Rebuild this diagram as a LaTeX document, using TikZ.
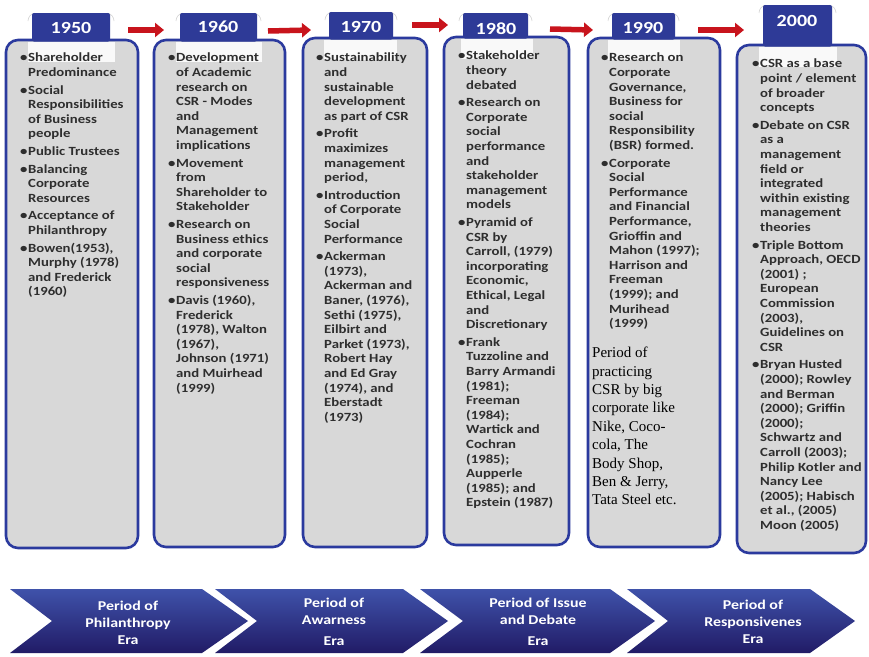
\documentclass[tikz,border=0pt]{standalone}
\usepackage{fontspec}
\setmainfont{Carlito}
\newfontfamily\bodyf[FakeStretch=1.18]{Carlito}
\newfontfamily\serifp{Liberation Serif}
\usetikzlibrary{arrows.meta}
\definecolor{tabblue}{HTML}{2E3A97}
\definecolor{bordblue}{HTML}{2B3A9E}
\definecolor{boxgray}{HTML}{D8D8D8}
\definecolor{txtgray}{HTML}{2E2E2E}
\definecolor{arrred}{HTML}{C8141C}
\definecolor{chevtop}{HTML}{3F52AA}
\definecolor{chevbot}{HTML}{211B66}
\newcommand\myb{\makebox[8pt][l]{•}}
\newcommand\myi{\hspace*{8pt}}
\begin{document}
\begin{tikzpicture}[x=1pt,y=-1pt,
  eraboxst/.style={draw=bordblue,line width=2.6pt,fill=boxgray,rounded corners=12pt},
  tabst/.style={fill=tabblue,rounded corners=2pt},
  glossst/.style={fill=white,opacity=0.85},
  arcst/.style={draw=gray!35,line width=0.6pt},
  yearst/.style={font=\bodyf\fontsize{17}{19}\selectfont\bfseries,text=white,inner sep=0pt},
  txtst/.style={anchor=north west,align=left,inner sep=0pt,font=\bodyf\fontsize{12.5}{14.6}\selectfont\bfseries,text=txtgray},
  redarr/.style={draw=arrred,line width=5.5pt,-{Triangle[length=9pt,width=14pt]}},
  chevst/.style={top color=chevtop,bottom color=chevbot},
  chevtxt/.style={font=\bodyf\fontsize{13.5}{17}\selectfont\bfseries,text=white,align=center,inner sep=0pt}]
\useasboundingbox (0,0) rectangle (869,656);
\fill[white] (0,0) rectangle (869,656);

% ---- boxes ----
\path[eraboxst] (6,40) rectangle (138,548);
\path[eraboxst] (154,40) rectangle (285,547);
\path[eraboxst] (303,38) rectangle (427,547);
\path[eraboxst] (444,37) rectangle (569,545);
\path[eraboxst] (588,38) rectangle (720,547);
\path[eraboxst] (737,45) rectangle (866,553);

% ---- gloss under tabs ----
\fill[glossst] (28,42) rectangle (115,62);
\fill[glossst] (176,42) rectangle (262,62);
\fill[glossst] (324,40) rectangle (397,60);
\fill[glossst] (461,39) rectangle (533,59);
\fill[glossst] (608,40) rectangle (680,60);
\fill[glossst] (759,47) rectangle (837,67);

% ---- faint arcs above tabs ----
\foreach \l/\r/\t in {32/110/13,180/257/13,329/393/12,463/528/13,612/675/13,763/832/5}{
  \draw[arcst] (\l-4,\t+8) arc[start angle=180,end angle=100,radius=8pt];
  \draw[arcst] (\r+4,\t+8) arc[start angle=0,end angle=80,radius=8pt];
}

% ---- tabs ----
\fill[tabst] (32,13) rectangle (110,41.5);
\fill[tabst] (180,13) rectangle (257,41.5);
\fill[tabst] (329,12) rectangle (393,39.5);
\fill[tabst] (463,13) rectangle (528,38.5);
\fill[tabst] (612,13) rectangle (675,39.5);
\fill[tabst] (763,5) rectangle (832,46.5);

\node[yearst] (y1950) at (71,28) {1950};
\node[yearst] (y1960) at (218,27) {1960};
\node[yearst] (y1970) at (361,27) {1970};
\node[yearst] (y1980) at (496,29) {1980};
\node[yearst] (y1990) at (643,28) {1990};
\node[yearst] (y2000) at (797,21) {2000};

% ---- red arrows ----
\coordinate (a1s) at (128,30); \coordinate (a1e) at (164,30);
\coordinate (a2s) at (268,31); \coordinate (a2e) at (311,30);
\coordinate (a3s) at (412,25); \coordinate (a3e) at (448,25);
\coordinate (a4s) at (550,29); \coordinate (a4e) at (593,30);
\coordinate (a5s) at (698,30); \coordinate (a5e) at (744,30);
\draw[redarr] (a1s) -- (a1e);
\draw[redarr] (a2s) -- (a2e);
\draw[redarr] (a3s) -- (a3e);
\draw[redarr] (a4s) -- (a4e);
\draw[redarr] (a5s) -- (a5e);

% ---- texts ----
\node[txtst] (t1950) at (20,53) {\myb Shareholder\\\myi Predominance\\[3pt]
\myb Social\\\myi Responsibilities\\\myi of Business\\\myi people\\[3pt]
\myb Public Trustees\\[3pt]
\myb Balancing\\\myi Corporate\\\myi Resources\\[3pt]
\myb Acceptance of\\\myi Philanthropy\\[3pt]
\myb Bowen(1953),\\\myi Murphy (1978)\\\myi and Frederick\\\myi (1960)};

\node[txtst] (t1960) at (168,53) {\myb Development\\\myi of Academic\\\myi research on\\\myi CSR - Modes\\\myi and\\\myi Management\\\myi implications\\[3pt]
\myb Movement\\\myi from\\\myi Shareholder to\\\myi Stakeholder\\[3pt]
\myb Research on\\\myi Business ethics\\\myi and corporate\\\myi social\\\myi responsiveness\\[3pt]
\myb Davis (1960),\\\myi Frederick\\\myi (1978), Walton\\\myi (1967),\\\myi Johnson (1971)\\\myi and Muirhead\\\myi (1999)};

\node[txtst] (t1970) at (316,53) {\myb Sustainability\\\myi and\\\myi sustainable\\\myi development\\\myi as part of CSR\\[3pt]
\myb Profit\\\myi maximizes\\\myi management\\\myi period,\\[3pt]
\myb Introduction\\\myi of Corporate\\\myi Social\\\myi Performance\\[3pt]
\myb Ackerman\\\myi (1973),\\\myi Ackerman and\\\myi Baner, (1976),\\\myi Sethi (1975),\\\myi Eilbirt and\\\myi Parket (1973),\\\myi Robert Hay\\\myi and Ed Gray\\\myi (1974), and\\\myi Eberstadt\\\myi (1973)};

\node[txtst] (t1980) at (458,51) {\myb Stakeholder\\\myi theory\\\myi debated\\[3pt]
\myb Research on\\\myi Corporate\\\myi social\\\myi performance\\\myi and\\\myi stakeholder\\\myi management\\\myi models\\[3pt]
\myb Pyramid of\\\myi CSR by\\\myi Carroll, (1979)\\\myi incorporating\\\myi Economic,\\\myi Ethical, Legal\\\myi and\\\myi Discretionary\\[3pt]
\myb Frank\\\myi Tuzzoline and\\\myi Barry Armandi\\\myi (1981);\\\myi Freeman\\\myi (1984);\\\myi Wartick and\\\myi Cochran\\\myi (1985);\\\myi Aupperle\\\myi (1985); and\\\myi Epstein (1987)};

\node[txtst] (t1990) at (601,53) {\myb Research on\\\myi Corporate\\\myi Governance,\\\myi Business for\\\myi social\\\myi Responsibility\\\myi (BSR) formed.\\[3pt]
\myb Corporate\\\myi Social\\\myi Performance\\\myi and Financial\\\myi Performance,\\\myi Grioffin and\\\myi Mahon (1997);\\\myi Harrison and\\\myi Freeman\\\myi (1999); and\\\myi Murihead\\\myi (1999)};

\node[anchor=north west,align=left,inner sep=0pt,font=\serifp\fontsize{15}{18.4}\selectfont,text=black] (p1990) at (592,347)
{Period of\\practicing\\CSR by big\\corporate like\\Nike, Coco-\\cola, The\\Body Shop,\\Ben \& Jerry,\\Tata Steel etc.};

\node[txtst] (t2000) at (752,59) {\myb CSR as a base\\\myi point / element\\\myi of broader\\\myi concepts\\[3pt]
\myb Debate on CSR\\\myi as a\\\myi management\\\myi field or\\\myi integrated\\\myi within existing\\\myi management\\\myi theories\\[3pt]
\myb Triple Bottom\\\myi Approach, OECD\\\myi (2001) ;\\\myi European\\\myi Commission\\\myi (2003),\\\myi Guidelines on\\\myi CSR\\[3pt]
\myb Bryan Husted\\\myi (2000); Rowley\\\myi and Berman\\\myi (2000); Griffin\\\myi (2000);\\\myi Schwartz and\\\myi Carroll (2003);\\\myi Philip Kotler and\\\myi Nancy Lee\\\myi (2005); Habisch\\\myi et al., (2005)\\\myi Moon (2005)};

% ---- chevrons ----
\shade[chevst] (10,589) -- (202,589) -- (248,621) -- (202,653) -- (10,653) -- (52,621) -- cycle;
\shade[chevst] (215,589) -- (403,589) -- (448,621) -- (403,653) -- (215,653) -- (257,621) -- cycle;
\shade[chevst] (420,589) -- (610,589) -- (655,621) -- (610,653) -- (420,653) -- (463,621) -- cycle;
\shade[chevst] (627,589) -- (810,589) -- (855,621) -- (810,653) -- (627,653) -- (668,621) -- cycle;

\node[chevtxt] (c1) at (128,623) {Period of\\Philanthropy\\Era};
\node[chevtxt] (c2) at (334,622) {Period of\\Awarness\\[4pt]Era};
\node[chevtxt] (c3) at (538,622) {Period of Issue\\and Debate\\[4pt]Era};
\node[chevtxt] (c4) at (753,622) {Period of\\Responsivenes\\Era};
\end{tikzpicture}
\end{document}
